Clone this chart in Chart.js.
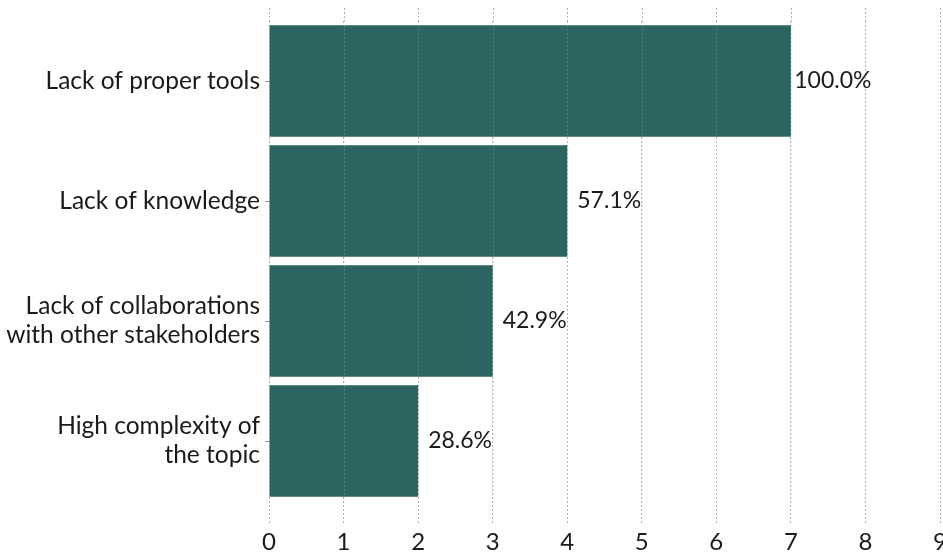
<!DOCTYPE html>
<html>
<head>
<meta charset="utf-8">
<script src="https://cdn.jsdelivr.net/npm/chart.js@4"></script>
<style>
  html, body { margin: 0; padding: 0; background: #fff; overflow: hidden; }
  #wrap { width: 943px; height: 553px; position: relative; }
</style>
</head>
<body>
<div id="wrap"><canvas id="myChart"></canvas></div>
<script>
const categories = [
    'Lack of proper tools',
    'Lack of knowledge',
    ['Lack of collaborations', 'with other stakeholders'],
    ['High complexity of', 'the topic']
];
const counts = [7, 4, 3, 2];
const shareLabels = ['100.0%', '57.1%', '42.9%', '28.6%'];
const xTicks = [0, 1, 2, 3, 4, 5, 6, 7, 8, 9];

const fontFamily = 'Lato, "Open Sans", sans-serif';
const gridColor = '#b0b0b0';

function dashedLines(chart, color, y0, y1) {
    const c = chart.ctx, x = chart.scales.x;
    c.save();
    c.strokeStyle = color;
    c.lineWidth = 1;
    c.setLineDash([2, 2]);
    xTicks.forEach(v => {
        const px = Math.round(x.getPixelForValue(v)) + 0.5;
        c.beginPath();
        c.moveTo(px, y0);
        c.lineTo(px, y1);
        c.stroke();
    });
    c.restore();
}

// percentages next to each bar + grid stubs above the plot
const extras = {
    id: 'extras',
    beforeDatasetsDraw(chart) {
        const a = chart.chartArea;
        dashedLines(chart, gridColor, a.top - 13, a.top);
    },
    afterDatasetsDraw(chart) {
        const a = chart.chartArea;
        // faint grid showing through the bars
        dashedLines(chart, 'rgba(190,190,190,0.3)', a.top, a.bottom);
        const c = chart.ctx;
        const meta = chart.getDatasetMeta(0);
        c.save();
        c.font = '23px ' + fontFamily;
        c.fillStyle = '#1a1a1a';
        c.textAlign = 'center';
        c.textBaseline = 'middle';
        meta.data.forEach((bar, i) => {
            c.fillText(shareLabels[i], bar.x + 42, bar.y);
        });
        c.restore();
    }
};

let ctx = document.querySelector('#myChart').getContext('2d');
let myChart = new Chart(ctx, {
    type: 'bar',
    data: {
        labels: categories,
        datasets: [{
            data: counts,
            backgroundColor: '#2b6461',
            borderWidth: 0,
            barPercentage: 0.93,
            categoryPercentage: 1
        }]
    },
    plugins: [extras],
    options: {
        indexAxis: 'y',
        responsive: true,
        maintainAspectRatio: false,
        animation: false,
        layout: { padding: { top: 21, bottom: 0, left: 0, right: 3 } },
        plugins: {
            legend: { display: false },
            tooltip: { enabled: false }
        },
        scales: {
            x: {
                min: 0,
                max: 9,
                afterBuildTicks: s => { s.ticks = xTicks.map(v => ({ value: v })); },
                afterFit: s => { s.height = 52; s.paddingLeft = 0; s.paddingRight = 0; },
                border: { display: false, dash: [2, 2] },
                grid: {
                    color: gridColor,
                    lineWidth: 1,
                    tickLength: 22,
                    tickBorderDash: [2, 2]
                },
                ticks: {
                    color: '#1a1a1a',
                    padding: 5,
                    font: { family: fontFamily, size: 24 }
                }
            },
            y: {
                afterFit: s => { s.width = 269; s.paddingTop = 0; s.paddingBottom = 0; },
                border: { display: false },
                grid: {
                    offset: false,
                    drawOnChartArea: false,
                    drawTicks: true,
                    tickLength: 4,
                    color: '#999'
                },
                ticks: {
                    color: '#1a1a1a',
                    padding: 5,
                    font: { family: fontFamily, size: 24.5, lineHeight: 1.18 }
                }
            }
        }
    }
});
</script>
</body>
</html>
